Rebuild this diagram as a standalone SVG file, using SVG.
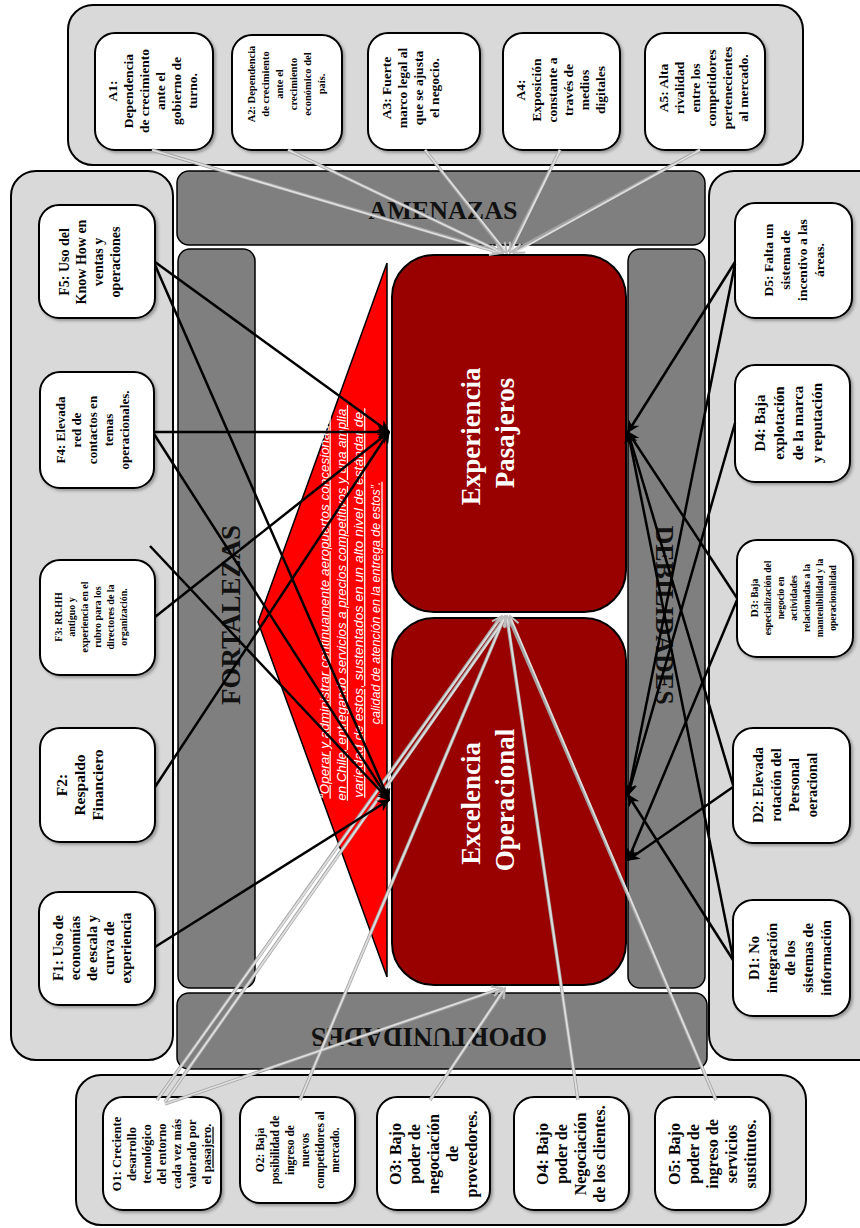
<svg xmlns="http://www.w3.org/2000/svg" width="860" height="1228" viewBox="0 0 860 1228">
  <defs>
    <style>
      .panel { fill: #d9d9d9; stroke: #000; stroke-width: 2; }
      .band { fill: #7f7f7f; stroke: #000; stroke-width: 1.5; }
      .card { fill: #fff; stroke: #000; stroke-width: 2; filter: url(#sh); }
      .core { fill: #990000; stroke: #000; stroke-width: 2; }
      .t { font-family: "Liberation Serif", "Times New Roman", serif; font-weight: bold; fill: #000; text-anchor: middle; }
      .band-t { font-family: "Liberation Serif", "Times New Roman", serif; font-weight: bold; fill: #111; text-anchor: middle; }
      .core-t { font-family: "Liberation Serif", "Times New Roman", serif; font-weight: bold; fill: #fff; text-anchor: middle; font-size: 27px; }
      .mission { font-family: "Liberation Sans", Arial, sans-serif; font-style: italic; fill: #fff; text-anchor: middle; font-size: 12.5px; text-decoration: underline; }
      .blk { stroke: #000; stroke-width: 2.5; fill: none; marker-end: url(#ah); }
      .gry-edge line { stroke: #a3a3a3; stroke-width: 3.4; fill: none; }
      .gry { stroke: #dedede; stroke-width: 1.8; fill: none; marker-end: url(#ag); }
    </style>
    <filter id="sh" x="-10%" y="-10%" width="125%" height="125%">
      <feDropShadow dx="2" dy="2" stdDeviation="1.5" flood-color="#000" flood-opacity="0.3"/>
    </filter>
    <marker id="ah" viewBox="0 0 10 10" refX="9" refY="5" markerWidth="5" markerHeight="5" orient="auto" markerUnits="strokeWidth">
      <path d="M0,0 L10,5 L0,10 L3,5 z" fill="#000"/>
    </marker>
    <marker id="ag" viewBox="0 0 10 10" refX="9" refY="5" markerWidth="7" markerHeight="7" orient="auto" markerUnits="strokeWidth">
      <path d="M1,1 L9,5 L1,9" fill="none" stroke="#bdbdbd" stroke-width="1.6"/>
    </marker>
  </defs>

  <rect width="860" height="1228" fill="#fff"/>

  <!-- outer panels -->
  <g id="panels">
    <rect class="panel" x="68" y="5" width="735" height="160" rx="25"/>
    <rect class="panel" x="11" y="171" width="162" height="889" rx="25"/>
    <rect class="panel" x="709" y="171" width="180" height="889" rx="25"/>
    <rect class="panel" x="76" y="1075" width="730" height="150" rx="25"/>
  </g>

  <!-- quadrant bands -->
  <g id="band-amenazas">
    <rect class="band" x="177" y="171" width="528" height="74" rx="12"/>
    <text class="band-t" x="443" y="219" font-size="26">AMENAZAS</text>
  </g>
  <g id="band-fortalezas">
    <rect class="band" x="178" y="249" width="77" height="739" rx="12"/>
    <text class="band-t" transform="translate(240 615) rotate(-90)" font-size="27">FORTALEZAS</text>
  </g>
  <g id="band-debilidades">
    <rect class="band" x="628" y="249" width="77" height="739" rx="12"/>
    <text class="band-t" transform="translate(656 615) rotate(90)" font-size="26">DEBILIDADES</text>
  </g>
  <g id="band-oportunidades">
    <rect class="band" x="177" y="993" width="530" height="76" rx="12"/>
    <text class="band-t" transform="translate(429 1028) rotate(180)" font-size="27">OPORTUNIDADES</text>
  </g>

  <!-- mission statement -->
  <g id="mision">
    <polygon points="387,263 258,622 387,977" fill="#ff0000" stroke="#000" stroke-width="1.5"/>
    <text class="mission" transform="translate(350 603) rotate(-90)">
      <tspan x="0" y="-21.5" textLength="388" lengthAdjust="spacingAndGlyphs">“Operar y administrar continuamente aeropuertos concesionados</tspan>
      <tspan x="0" dy="17.3" textLength="392" lengthAdjust="spacingAndGlyphs">en Chile, entregando servicios a precios competitivos y una amplia</tspan>
      <tspan x="0" dy="17.3" textLength="386" lengthAdjust="spacingAndGlyphs">variedad de estos, sustentados en un alto nivel de estándar de</tspan>
      <tspan x="0" dy="17.3">calidad de atención en la entrega de estos”.</tspan>
    </text>
  </g>

  <!-- central objectives -->
  <g id="experiencia">
    <rect class="core" x="392" y="255" width="234" height="357" rx="42"/>
    <text class="core-t" transform="translate(487 433) rotate(-90)">
      <tspan x="0" y="-7">Experiencia</tspan>
      <tspan x="0" dy="34">Pasajeros</tspan>
    </text>
  </g>
  <g id="excelencia">
    <rect class="core" x="392" y="618" width="234" height="367" rx="42"/>
    <text class="core-t" transform="translate(487 800) rotate(-90)">
      <tspan x="0" y="-7">Excelencia</tspan>
      <tspan x="0" dy="34">Operacional</tspan>
    </text>
  </g>

  <!-- threats -->
  <g id="A1">
    <rect class="card" x="95" y="33" width="118" height="117" rx="20"/>
    <text class="t" font-size="13.5" transform="translate(152 91) rotate(-90)">
      <tspan x="0" y="-35.3">A1:</tspan><tspan x="0" dy="16">Dependencia</tspan><tspan x="0" dy="16">de crecimiento</tspan><tspan x="0" dy="16">ante el</tspan><tspan x="0" dy="16">gobierno de</tspan><tspan x="0" dy="16">turno.</tspan>
    </text>
  </g>
  <g id="A2">
    <rect class="card" x="232" y="35" width="110" height="115" rx="20"/>
    <text class="t" font-size="10.5" transform="translate(286 84) rotate(-90)">
      <tspan x="0" y="-31.3">A2: Dependencia</tspan><tspan x="0" dy="14">de crecimiento</tspan><tspan x="0" dy="14">ante el</tspan><tspan x="0" dy="14">crecimiento</tspan><tspan x="0" dy="14">económico del</tspan><tspan x="0" dy="14">país.</tspan>
    </text>
  </g>
  <g id="A3">
    <rect class="card" x="368" y="33" width="112" height="117" rx="20"/>
    <text class="t" font-size="13.5" transform="translate(410 88) rotate(-90)">
      <tspan x="0" y="-19.3">A3: Fuerte</tspan><tspan x="0" dy="16">marco legal al</tspan><tspan x="0" dy="16">que se ajusta</tspan><tspan x="0" dy="16">el negocio.</tspan>
    </text>
  </g>
  <g id="A4">
    <rect class="card" x="503" y="33" width="117" height="117" rx="20"/>
    <text class="t" font-size="13.5" transform="translate(560 90) rotate(-90)">
      <tspan x="0" y="-35.3">A4:</tspan><tspan x="0" dy="16">Exposición</tspan><tspan x="0" dy="16">constante a</tspan><tspan x="0" dy="16">través de</tspan><tspan x="0" dy="16">medios</tspan><tspan x="0" dy="16">digitales</tspan>
    </text>
  </g>
  <g id="A5">
    <rect class="card" x="645" y="33" width="120" height="117" rx="20"/>
    <text class="t" font-size="13.5" transform="translate(703 88) rotate(-90)">
      <tspan x="0" y="-35.3">A5: Alta</tspan><tspan x="0" dy="16">rivalidad</tspan><tspan x="0" dy="16">entre los</tspan><tspan x="0" dy="16">competidores</tspan><tspan x="0" dy="16">pertenecientes</tspan><tspan x="0" dy="16">al mercado.</tspan>
    </text>
  </g>

  <!-- strengths -->
  <g id="F5">
    <rect class="card" x="39" y="205" width="116" height="113" rx="20"/>
    <text class="t" font-size="14" transform="translate(90 262) rotate(-90)">
      <tspan x="0" y="-20.6">F5: Uso del</tspan><tspan x="0" dy="17">Know How en</tspan><tspan x="0" dy="17">ventas y</tspan><tspan x="0" dy="17">operaciones</tspan>
    </text>
  </g>
  <g id="F4">
    <rect class="card" x="40" y="372" width="114" height="116" rx="20"/>
    <text class="t" font-size="13" transform="translate(92 430) rotate(-90)">
      <tspan x="0" y="-27.4">F4: Elevada</tspan><tspan x="0" dy="16">red de</tspan><tspan x="0" dy="16">contactos en</tspan><tspan x="0" dy="16">temas</tspan><tspan x="0" dy="16">operacionales.</tspan>
    </text>
  </g>
  <g id="F3">
    <rect class="card" x="40" y="560" width="115" height="115" rx="20"/>
    <text class="t" font-size="10" transform="translate(91 617) rotate(-90)">
      <tspan x="0" y="-29">F3: RR.HH</tspan><tspan x="0" dy="13">antiguo y</tspan><tspan x="0" dy="13">experiencia en el</tspan><tspan x="0" dy="13">rubro para los</tspan><tspan x="0" dy="13">directores de la</tspan><tspan x="0" dy="13">organización.</tspan>
    </text>
  </g>
  <g id="F2">
    <rect class="card" x="40" y="728" width="115" height="114" rx="20"/>
    <text class="t" font-size="15.5" transform="translate(80 785) rotate(-90)">
      <tspan x="0" y="-12.6">F2:</tspan><tspan x="0" dy="18">Respaldo</tspan><tspan x="0" dy="18">Financiero</tspan>
    </text>
  </g>
  <g id="F1">
    <rect class="card" x="39" y="892" width="116" height="113" rx="20"/>
    <text class="t" font-size="14.5" transform="translate(92 948) rotate(-90)">
      <tspan x="0" y="-28.9">F1: Uso de</tspan><tspan x="0" dy="17">economías</tspan><tspan x="0" dy="17">de escala y</tspan><tspan x="0" dy="17">curva de</tspan><tspan x="0" dy="17">experiencia</tspan>
    </text>
  </g>

  <!-- weaknesses -->
  <g id="D5">
    <rect class="card" x="735" y="203" width="117" height="115" rx="20"/>
    <text class="t" font-size="13.5" transform="translate(794 260) rotate(-90)">
      <tspan x="0" y="-20.8">D5: Falta un</tspan><tspan x="0" dy="17">sistema de</tspan><tspan x="0" dy="17">incentivo a las</tspan><tspan x="0" dy="17">áreas.</tspan>
    </text>
  </g>
  <g id="D4">
    <rect class="card" x="735" y="365" width="115" height="117" rx="20"/>
    <text class="t" font-size="15" transform="translate(788 423) rotate(-90)">
      <tspan x="0" y="-23.2">D4: Baja</tspan><tspan x="0" dy="19">explotación</tspan><tspan x="0" dy="19">de la marca</tspan><tspan x="0" dy="19">y reputación</tspan>
    </text>
  </g>
  <g id="D3">
    <rect class="card" x="737" y="540" width="116" height="117" rx="20"/>
    <text class="t" font-size="9.5" transform="translate(794 598) rotate(-90)">
      <tspan x="0" y="-35.7"><tspan font-size="11">D3:</tspan> Baja</tspan><tspan x="0" dy="13">especialización del</tspan><tspan x="0" dy="13">negocio en</tspan><tspan x="0" dy="13">actividades</tspan><tspan x="0" dy="13">relacionadas a la</tspan><tspan x="0" dy="13">mantenibilidad y la</tspan><tspan x="0" dy="13">operacionalidad</tspan>
    </text>
  </g>
  <g id="D2">
    <rect class="card" x="733" y="728" width="117" height="115" rx="20"/>
    <text class="t" font-size="14.5" transform="translate(785 785) rotate(-90)">
      <tspan x="0" y="-21.9">D2: Elevada</tspan><tspan x="0" dy="18">rotación del</tspan><tspan x="0" dy="18">Personal</tspan><tspan x="0" dy="18">oeracional</tspan>
    </text>
  </g>
  <g id="D1">
    <rect class="card" x="733" y="900" width="117" height="116" rx="20"/>
    <text class="t" font-size="14.5" transform="translate(790 958) rotate(-90)">
      <tspan x="0" y="-30.9">D1: No</tspan><tspan x="0" dy="18">integración</tspan><tspan x="0" dy="18">de los</tspan><tspan x="0" dy="18">sistemas de</tspan><tspan x="0" dy="18">información</tspan>
    </text>
  </g>

  <!-- opportunities -->
  <g id="O1">
    <rect class="card" x="103" y="1097" width="118" height="113" rx="20"/>
    <text class="t" font-size="12.5" transform="translate(162 1154) rotate(-90)">
      <tspan x="0" y="-40.6">O1: Creciente</tspan><tspan x="0" dy="15">desarrollo</tspan><tspan x="0" dy="15">tecnológico</tspan><tspan x="0" dy="15">del entorno</tspan><tspan x="0" dy="15">cada vez más</tspan><tspan x="0" dy="15">valorado por</tspan><tspan x="0" dy="15">el <tspan text-decoration="underline">pasajero</tspan>.</tspan>
    </text>
  </g>
  <g id="O2">
    <rect class="card" x="240" y="1097" width="115" height="106" rx="20"/>
    <text class="t" font-size="11.5" transform="translate(297 1150) rotate(-90)">
      <tspan x="0" y="-33.5">O2: Baja</tspan><tspan x="0" dy="15">posibilidad de</tspan><tspan x="0" dy="15">ingreso de</tspan><tspan x="0" dy="15">nuevos</tspan><tspan x="0" dy="15">competidores al</tspan><tspan x="0" dy="15">mercado.</tspan>
    </text>
  </g>
  <g id="O3">
    <rect class="card" x="377" y="1097" width="113" height="113" rx="20"/>
    <text class="t" font-size="16" transform="translate(433 1154) rotate(-90)">
      <tspan x="0" y="-32.4">O3: Bajo</tspan><tspan x="0" dy="19">poder de</tspan><tspan x="0" dy="19">negociación</tspan><tspan x="0" dy="19">de</tspan><tspan x="0" dy="19">proveedores.</tspan>
    </text>
  </g>
  <g id="O4">
    <rect class="card" x="514" y="1097" width="115" height="113" rx="20"/>
    <text class="t" font-size="16" transform="translate(571 1154) rotate(-90)">
      <tspan x="0" y="-22.9">O4: Bajo</tspan><tspan x="0" dy="19">poder de</tspan><tspan x="0" dy="19">Negociación</tspan><tspan x="0" dy="19">de los clientes.</tspan>
    </text>
  </g>
  <g id="O5">
    <rect class="card" x="655" y="1097" width="115" height="113" rx="20"/>
    <text class="t" font-size="16" transform="translate(712 1154) rotate(-90)">
      <tspan x="0" y="-32.4">O5: Bajo</tspan><tspan x="0" dy="19">poder de</tspan><tspan x="0" dy="19">ingreso de</tspan><tspan x="0" dy="19">servicios</tspan><tspan x="0" dy="19">sustitutos.</tspan>
    </text>
  </g>

  <!-- connectors -->
  <g id="connectors">
    <!-- darker rim under the light grey links -->
    <g class="gry-edge">
      <line x1="152" y1="150" x2="498" y2="252"/>
      <line x1="288" y1="150" x2="501" y2="252"/>
      <line x1="425" y1="150" x2="505" y2="252"/>
      <line x1="560" y1="150" x2="509" y2="252"/>
      <line x1="700" y1="150" x2="512" y2="252"/>
      <line x1="157" y1="1100" x2="500" y2="618"/>
      <line x1="165" y1="1102" x2="504" y2="619"/>
      <line x1="165" y1="1104" x2="500" y2="989"/>
      <line x1="300" y1="1100" x2="504" y2="618"/>
      <line x1="430" y1="1100" x2="504" y2="990"/>
      <line x1="578" y1="1100" x2="507" y2="618"/>
      <line x1="716" y1="1100" x2="509" y2="618"/>
    </g>
    <!-- threats into Experiencia Pasajeros -->
    <line class="gry" x1="152" y1="150" x2="500" y2="253"/>
    <line class="gry" x1="288" y1="150" x2="503" y2="253"/>
    <line class="gry" x1="425" y1="150" x2="507" y2="253"/>
    <line class="gry" x1="560" y1="150" x2="510" y2="253"/>
    <line class="gry" x1="700" y1="150" x2="514" y2="253"/>
    <!-- opportunities -->
    <line class="gry" x1="157" y1="1100" x2="502" y2="616"/>
    <line class="gry" x1="165" y1="1102" x2="506" y2="617"/>
    <line class="gry" x1="165" y1="1104" x2="502" y2="988"/>
    <line class="gry" x1="300" y1="1100" x2="505" y2="616"/>
    <line class="gry" x1="430" y1="1100" x2="505" y2="988"/>
    <line class="gry" x1="578" y1="1100" x2="507" y2="616"/>
    <line class="gry" x1="716" y1="1100" x2="510" y2="616"/>
    <!-- strengths -->
    <line class="blk" x1="155" y1="262" x2="389" y2="432"/>
    <line class="blk" x1="155" y1="265" x2="389" y2="800"/>
    <line class="blk" x1="154" y1="432" x2="389" y2="432"/>
    <line class="blk" x1="154" y1="434" x2="389" y2="800"/>
    <line class="blk" x1="150" y1="546" x2="389" y2="800"/>
    <line class="blk" x1="155" y1="617" x2="389" y2="432"/>
    <line class="blk" x1="155" y1="787" x2="389" y2="432"/>
    <line class="blk" x1="155" y1="947" x2="389" y2="800"/>
    <!-- weaknesses -->
    <line class="blk" x1="735" y1="262" x2="628" y2="432"/>
    <line class="blk" x1="735" y1="264" x2="628" y2="795"/>
    <line class="blk" x1="735" y1="423" x2="628" y2="795"/>
    <line class="blk" x1="737" y1="598" x2="628" y2="432"/>
    <line class="blk" x1="737" y1="600" x2="628" y2="860"/>
    <line class="blk" x1="733" y1="785" x2="628" y2="432"/>
    <line class="blk" x1="733" y1="787" x2="628" y2="860"/>
    <line class="blk" x1="733" y1="958" x2="628" y2="432"/>
    <line class="blk" x1="733" y1="960" x2="628" y2="795"/>
  </g>
</svg>
